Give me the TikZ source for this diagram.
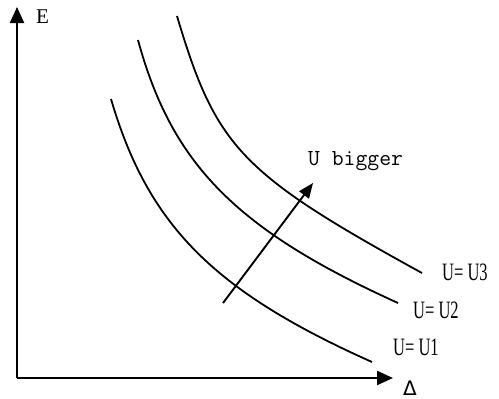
\documentclass[tikz,border=0pt]{standalone}
\usepackage{fontspec}
\setmainfont{Liberation Serif}
\newfontfamily\curvefont[FakeStretch=0.66]{Liberation Serif}
\newfontfamily\deltafont{DejaVu Sans}
\usetikzlibrary{arrows.meta,positioning}

\begin{document}
\begin{tikzpicture}[x=1pt,y=-1pt,
    axis/.style={line width=2.2pt,-{Triangle[length=16pt,width=14pt]}},
    curve/.style={line width=1.8pt},
    shiftarrow/.style={line width=1.9pt,-{Triangle[length=15pt,width=12pt]}},
    curvelabel/.style={font=\curvefont\fontsize{25}{25}\selectfont,inner sep=0pt,anchor=west},
    axislabel/.style={inner sep=0pt}
  ]
    \useasboundingbox (0,0) rectangle (499,399);
    \coordinate (origin) at (17,378);
    \coordinate (ytop) at (17,7);
    \coordinate (xend) at (393,378);
    \draw[axis] (origin) -- (ytop);
    \draw[axis] (origin) -- (xend);
    \node[axislabel,below right=3pt and 19pt of ytop,font=\fontsize{21}{21}\selectfont] (elabel) {E};
    \node[axislabel,right=10pt of xend,anchor=west,yshift=-10pt,font=\deltafont\fontsize{20}{20}\selectfont] (dlabel) {Δ};

    \coordinate (u1start) at (111,99);
    \coordinate (u2start) at (138,40);
    \coordinate (u3start) at (177,16);
    \coordinate (u1end) at (372,362);
    \coordinate (u2end) at (398,303);
    \coordinate (u3end) at (422,273);
    \draw[curve] (u1start) .. controls (148,225) and (213,291) .. (u1end);
    \draw[curve] (u2start) .. controls (172,165) and (237,230) .. (u2end);
    \draw[curve] (u3start) .. controls (216,147) and (240,173) .. (u3end);
    \node[curvelabel,right=21pt of u1end,yshift=15pt] (u1label) {U=\ U1};
    \node[curvelabel,right=15pt of u2end,yshift=-7pt] (u2label) {U=\ U2};
    \node[curvelabel,right=20pt of u3end,yshift=1pt] (u3label) {U=\ U3};

    \coordinate (ushift) at (223,303);
    \coordinate (utip) at (313,183);
    \draw[shiftarrow] (ushift) -- (utip);
    \node[above=18pt of utip,anchor=base west,xshift=-5pt,inner sep=0pt,
      font=\ttfamily\fontsize{23}{23}\selectfont] (ubigger) {U bigger};
\end{tikzpicture}
\end{document}
